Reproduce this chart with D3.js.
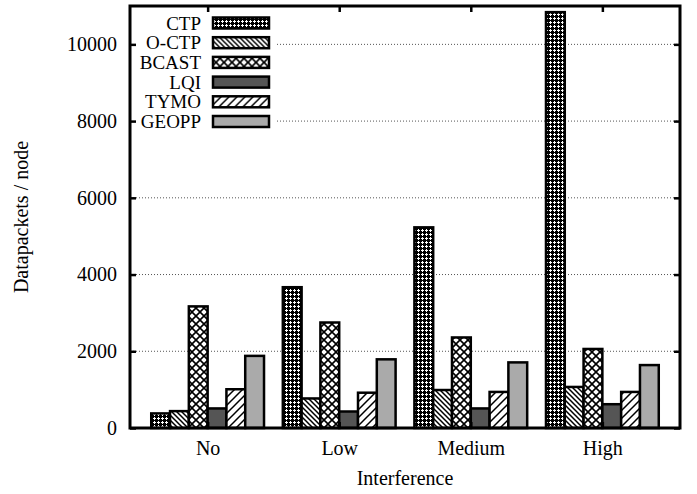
<!DOCTYPE html>
<html>
<head>
<meta charset="utf-8">
<script src="https://cdn.jsdelivr.net/npm/d3@7"></script>
<style>
  body { margin: 0; background: #fff; }
  text { font-family: "Liberation Serif", "Times New Roman", serif; fill: #000; }
</style>
</head>
<body>
<div id="chart"></div>
<script>
// data
var categories = ['No', 'Low', 'Medium', 'High'];
var series     = ['CTP', 'O-CTP', 'BCAST', 'LQI', 'TYMO', 'GEOPP'];
var ctp   = [380, 3670, 5230, 10840];
var octp  = [440, 770, 990, 1070];
var bcast = [3170, 2750, 2360, 2060];
var lqi   = [510, 430, 510, 620];
var tymo  = [1010, 920, 940, 940];
var geopp = [1880, 1790, 1710, 1640];
var y_ticks = [0, 2000, 4000, 6000, 8000, 10000];

var values = [ctp, octp, bcast, lqi, tymo, geopp];
var fills  = ['url(#p-ctp)', 'url(#p-octp)', 'url(#p-bcast)', '#555555', 'url(#p-tymo)', '#aaaaaa'];

var chart_width  = 697;
var chart_height = 494;
var plot_left = 130, plot_right = 680, plot_top = 6, plot_bottom = 428;

var svg = d3.select('#chart')
    .append('svg')
    .attr('width', chart_width)
    .attr('height', chart_height);

// patterns
var defs = svg.append('defs');

var p1 = defs.append('pattern').attr('id', 'p-ctp')
    .attr('patternUnits', 'userSpaceOnUse').attr('width', 4).attr('height', 4);
p1.append('rect').attr('width', 4).attr('height', 4).attr('fill', '#000');
p1.append('rect').attr('x', 1).attr('y', 2).attr('width', 3).attr('height', 1).attr('fill', '#fff');
p1.append('rect').attr('x', 2).attr('y', 1).attr('width', 1).attr('height', 3).attr('fill', '#fff');

var p2 = defs.append('pattern').attr('id', 'p-octp')
    .attr('patternUnits', 'userSpaceOnUse').attr('width', 5).attr('height', 5);
p2.append('rect').attr('width', 5).attr('height', 5).attr('fill', '#fff');
p2.append('path').attr('d', 'M0,0L5,5M-1,4L1,6M4,-1L6,1')
    .attr('stroke', '#000').attr('stroke-width', 1.5);

var p3 = defs.append('pattern').attr('id', 'p-bcast')
    .attr('patternUnits', 'userSpaceOnUse').attr('width', 8).attr('height', 8);
p3.append('rect').attr('width', 8).attr('height', 8).attr('fill', '#fff');
p3.append('path').attr('d', 'M0,0L8,8M8,0L0,8')
    .attr('stroke', '#000').attr('stroke-width', 1.6);

var p4 = defs.append('pattern').attr('id', 'p-tymo')
    .attr('patternUnits', 'userSpaceOnUse').attr('width', 8).attr('height', 8);
p4.append('rect').attr('width', 8).attr('height', 8).attr('fill', '#fff');
p4.append('path').attr('d', 'M0,8L8,0M-2,2L2,-2M6,10L10,6')
    .attr('stroke', '#000').attr('stroke-width', 1.5);

// scales
var x_scale = d3.scaleLinear()
    .domain([-0.59, 3.59])
    .range([plot_left, plot_right]);

var y_scale = d3.scaleLinear()
    .domain([0, 11000])
    .range([plot_bottom, plot_top]);

var bar_w = 1 / 7;

// grid
svg.append('g')
    .selectAll('line')
    .data(y_ticks.slice(1))
    .enter()
    .append('line')
    .attr('x1', plot_left).attr('x2', plot_right)
    .attr('y1', function(d){ return y_scale(d); })
    .attr('y2', function(d){ return y_scale(d); })
    .attr('stroke', '#555')
    .attr('stroke-width', 1)
    .attr('stroke-dasharray', '1,2');

// bars
var rows = [];
values.forEach(function(vals, s){
    vals.forEach(function(v, c){
        rows.push({s: s, c: c, v: v});
    });
});

svg.append('g')
    .selectAll('rect')
    .data(rows)
    .enter()
    .append('rect')
    .attr('x', function(d){ return x_scale(d.c + (d.s - 3) * bar_w); })
    .attr('y', function(d){ return y_scale(d.v); })
    .attr('width', x_scale(bar_w) - x_scale(0))
    .attr('height', function(d){ return y_scale(0) - y_scale(d.v); })
    .attr('fill', function(d){ return fills[d.s]; })
    .attr('stroke', '#000')
    .attr('stroke-width', 2.5);

// legend
var legend = svg.append('g');
legend.append('rect')
    .attr('x', plot_left + 1).attr('y', plot_top + 2)
    .attr('width', 146).attr('height', 125)
    .attr('fill', '#fff');

var items = legend.selectAll('g.item')
    .data(series)
    .enter()
    .append('g')
    .attr('transform', function(d, i){ return 'translate(0,' + (23 + i * 19.7) + ')'; });

items.append('text')
    .attr('x', 201)
    .attr('dy', '0.35em')
    .attr('text-anchor', 'end')
    .attr('font-size', 19)
    .text(function(d){ return d; });

items.append('rect')
    .attr('x', 213).attr('y', -5.5)
    .attr('width', 56).attr('height', 11)
    .attr('fill', function(d, i){ return fills[i]; })
    .attr('stroke', '#000')
    .attr('stroke-width', 2.5);

// axes
var y_axis = d3.axisLeft(y_scale)
    .tickValues(y_ticks)
    .tickFormat(d3.format('d'))
    .tickSize(-6)
    .tickPadding(13);
var ga = svg.append('g').attr('transform', 'translate(' + plot_left + ',0)').call(y_axis);

var y_axis_r = d3.axisRight(y_scale)
    .tickValues(y_ticks)
    .tickSize(-6)
    .tickFormat('');
var gb = svg.append('g').attr('transform', 'translate(' + plot_right + ',0)').call(y_axis_r);

var x_axis = d3.axisBottom(x_scale)
    .tickValues(d3.range(categories.length))
    .tickFormat(function(i){ return categories[i]; })
    .tickSize(-6)
    .tickPadding(13);
var gc = svg.append('g').attr('transform', 'translate(0,' + plot_bottom + ')').call(x_axis);

var x_axis_t = d3.axisTop(x_scale)
    .tickValues(d3.range(categories.length))
    .tickSize(-6)
    .tickFormat('');
var gd = svg.append('g').attr('transform', 'translate(0,' + plot_top + ')').call(x_axis_t);

[ga, gb, gc, gd].forEach(function(g){
    g.select('.domain').remove();
    g.selectAll('.tick line').attr('stroke', '#000').attr('stroke-width', 2.5);
    g.selectAll('text')
        .attr('font-size', 20)
        .attr('font-family', '"Liberation Serif", "Times New Roman", serif');
});

// frame
svg.append('rect')
    .attr('x', plot_left).attr('y', plot_top)
    .attr('width', plot_right - plot_left).attr('height', plot_bottom - plot_top)
    .attr('fill', 'none')
    .attr('stroke', '#000')
    .attr('stroke-width', 3);

// titles
svg.append('text')
    .attr('x', (plot_left + plot_right) / 2)
    .attr('y', 485)
    .attr('text-anchor', 'middle')
    .attr('font-size', 20)
    .text('Interference');

svg.append('text')
    .attr('transform', 'translate(28,' + (plot_top + plot_bottom) / 2 + ') rotate(-90)')
    .attr('text-anchor', 'middle')
    .attr('font-size', 20)
    .text('Datapackets / node');
</script>
</body>
</html>
